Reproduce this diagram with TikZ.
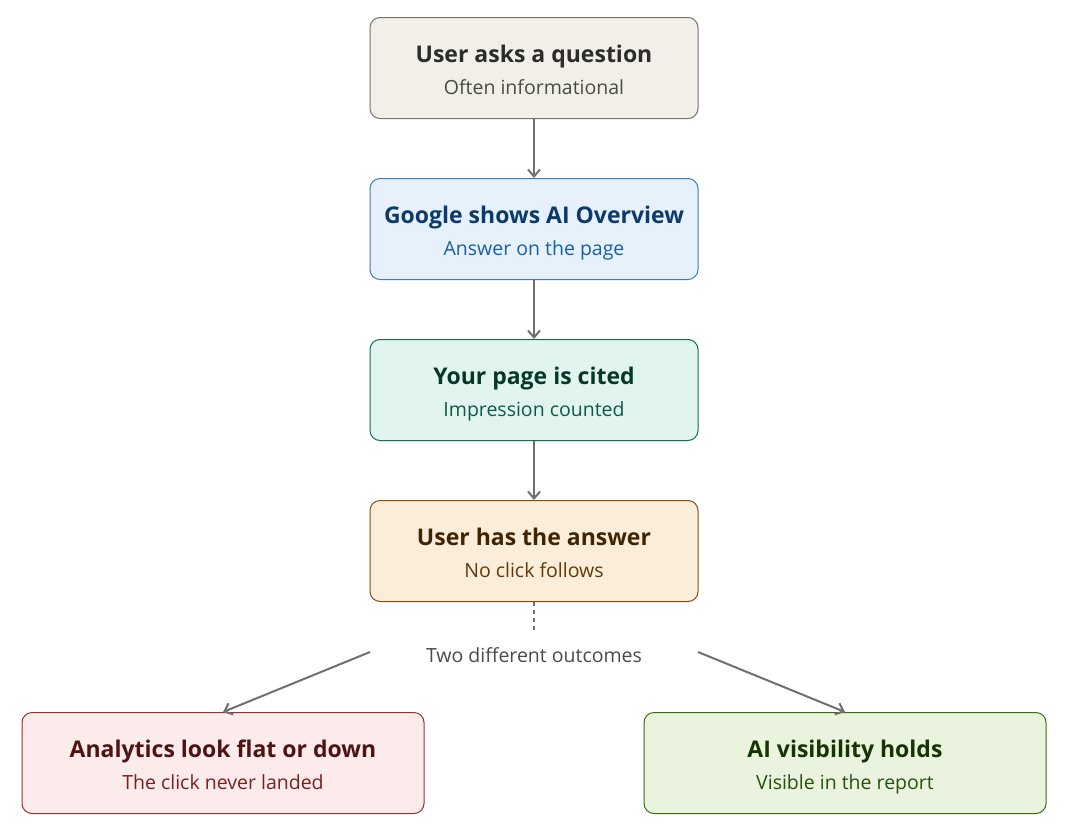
\documentclass[tikz,border=0pt]{standalone}
\usepackage{fontspec}
\setmainfont{Open Sans}
\usetikzlibrary{arrows.meta}
\definecolor{ar}{HTML}{707070}
\definecolor{f1}{HTML}{F1EFE8}\definecolor{d1}{HTML}{75746B}\definecolor{t1}{HTML}{2C2C2A}\definecolor{s1}{HTML}{4A4A46}
\definecolor{f2}{HTML}{E6F1FB}\definecolor{d2}{HTML}{3B7CC0}\definecolor{t2}{HTML}{0C3A6B}\definecolor{s2}{HTML}{185FA5}
\definecolor{f3}{HTML}{E1F5EE}\definecolor{d3}{HTML}{0F6E56}\definecolor{t3}{HTML}{06382A}\definecolor{s3}{HTML}{0F5A45}
\definecolor{f4}{HTML}{FAEEDA}\definecolor{d4}{HTML}{854F0B}\definecolor{t4}{HTML}{412402}\definecolor{s4}{HTML}{633806}
\definecolor{f5}{HTML}{FCEBEB}\definecolor{d5}{HTML}{A32D2D}\definecolor{t5}{HTML}{501313}\definecolor{s5}{HTML}{791F1F}
\definecolor{f6}{HTML}{EAF3DE}\definecolor{d6}{HTML}{3B6D11}\definecolor{t6}{HTML}{173404}\definecolor{s6}{HTML}{27500A}
\tikzset{x=1pt,y=-1pt,
 box/.style={draw,rounded corners=10pt,line width=1pt,minimum width=#1,minimum height=101pt,align=center,inner sep=0pt},
 box/.default=328pt,
 conn/.style={draw=ar,line width=2pt,-{Straight Barb[length=7pt,width=12pt,line width=2pt]}},
}
\newcommand{\bx}[4]{{\color{#3}\fontsize{23}{28}\selectfont\bfseries\rule{0pt}{26pt}\vphantom{Ayg}#1}\\[10pt]{\color{#4}\fontsize{19.5}{24}\selectfont\vphantom{Ayg}#2}}
\begin{document}
\begin{tikzpicture}
\useasboundingbox[fill=white] (0,0) rectangle (1076,835);
\node[box,fill=f1,draw=d1] (a) at (534,68) {\bx{User asks a question}{Often informational}{t1}{s1}};
\node[box,fill=f2,draw=d2] (b) at (534,229) {\bx{Google shows AI Overview}{Answer on the page}{t2}{s2}};
\node[box,fill=f3,draw=d3] (c) at (534,390) {\bx{Your page is cited}{Impression counted}{t3}{s3}};
\node[box,fill=f4,draw=d4] (d) at (534,551) {\bx{User has the answer}{No click follows}{t4}{s4}};
\node[box=402pt,fill=f5,draw=d5] (l) at (223,763) {\bx{Analytics look flat or down}{The click never landed}{t5}{s5}};
\node[box=402pt,fill=f6,draw=d6] (r) at (845,763) {\bx{AI visibility holds}{Visible in the report}{t6}{s6}};
\node[text=s1,font=\fontsize{19.5}{24}\selectfont] (m) at (534,655) {Two different outcomes};
\coordinate (ml) at (370,652);
\coordinate (mr) at (698,652);
\coordinate (dm) at (534,632);
\draw[conn] (a) -- (b);
\draw[conn] (b) -- (c);
\draw[conn] (c) -- (d);
\draw[draw=ar,line width=2pt,dash pattern=on 4pt off 4pt] (d.south) -- (dm);
\draw[conn] (ml) -- (l.north);
\draw[conn] (mr) -- (r.north);
\end{tikzpicture}
\end{document}
